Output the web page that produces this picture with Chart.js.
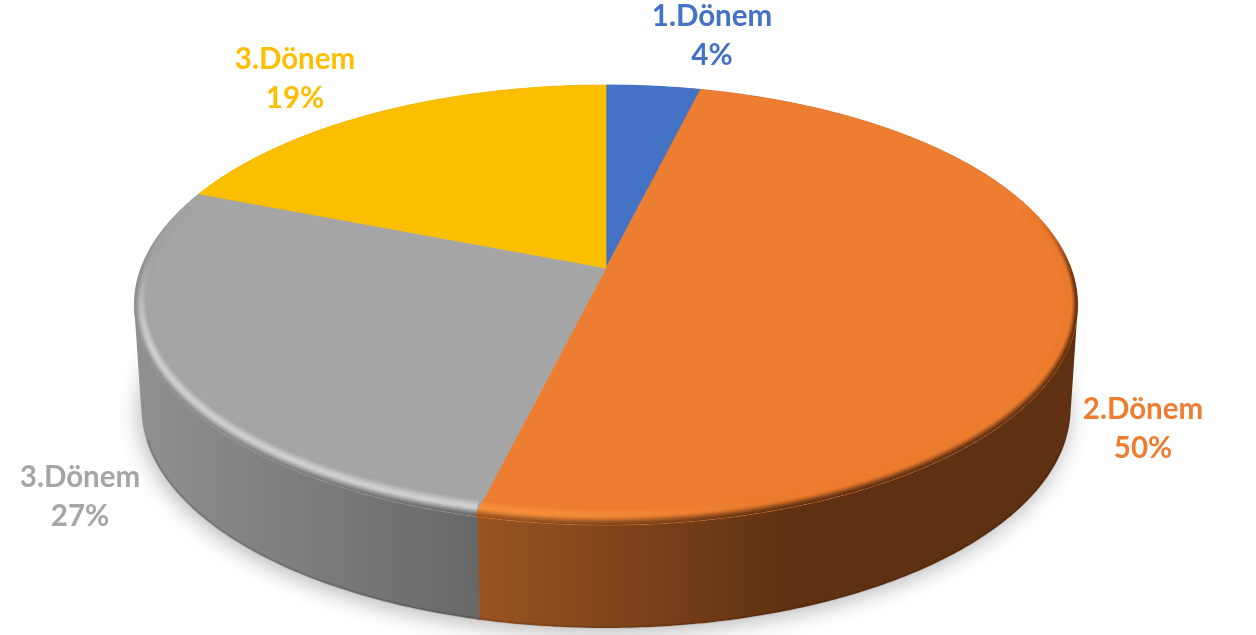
<!DOCTYPE html>
<html>
<head>
<meta charset="utf-8">
<title>Dönem</title>
<script src="https://cdn.jsdelivr.net/npm/chart.js@4/dist/chart.umd.min.js"></script>
<style>
  html, body { margin: 0; padding: 0; background: #fff; overflow: hidden; }
  canvas { display: block; }
</style>
</head>
<body>
<canvas id="pie" width="1256" height="635"></canvas>
<script>
// ---- Data ----
const CATEGORIES = ["1.Dönem", "2.Dönem", "3.Dönem", "3.Dönem"];
const VALUES = [3.8, 50, 27.2, 19];

// ---- Styles ----
const COLORS = ["#4472c4", "#ed7d31", "#a5a5a5", "#fcbf00"];
const LABEL_COLORS = ["#4472c4", "#ed7d31", "#a5a5a5", "#fcbf00"];
const HIGHLIGHTS = ["#4472c4", "#f8923f", "#d2d2d2", "#fcbf00"];
// wall shade at its left and right end, [x, colour]
const WALLS = [
  [[600, "#2a4678"], [710, "#2a4678"]],
  [[476, "#9a5421"], [800, "#5f3012"]],
  [[140, "#909090"], [476, "#686868"]],
  [[200, "#9a7400"], [606, "#9a7400"]],
];
const LABEL_SPOTS = [[712, 16], [1143, 409], [80, 477], [295, 59]];
const LABEL_GAP = 39;

// perspective of the tilted disc, apex of the slices at cx,cy
const VIEW = { cx: 606, cy: 268, a: 465, b: 213.8, k: -0.168 };
const DEPTH = 103, FLOOR_X = 0.985;

function project(u, v, low) {
  const w = 1 + VIEW.k * v;
  const sx = low ? FLOOR_X : 1;
  return [VIEW.cx + sx * VIEW.a * u / w, VIEW.cy + (low ? DEPTH : 0) + VIEW.b * v / w];
}

function hexRgb(h) {
  return [1, 3, 5].map(i => parseInt(h.substr(i, 2), 16));
}
function mix(a, b, t) {
  return a.map((c, i) => c + (b[i] - c) * t);
}
function css(c) {
  return `rgb(${c.map(Math.round).join(",")})`;
}
function clamp01(t) {
  return Math.max(0, Math.min(1, t));
}
function smooth(t) {
  t = clamp01(t);
  return t * t * (3 - 2 * t);
}
function wallAt(i, x) {
  const [[x0, c0], [x1, c1]] = WALLS[i];
  return mix(hexRgb(c0), hexRgb(c1), clamp01((x - x0) / (x1 - x0)));
}

// points along an arc of the rim
function rimAngles(arc, lead = 0) {
  const list = [], step = Math.PI / 360;
  for (let t = arc.startAngle - lead; t < arc.endAngle; t += step) list.push(t);
  list.push(arc.endAngle);
  return list;
}

function drawShadow(ctx) {
  ctx.save();
  ctx.beginPath();
  for (let t = 0; t < Math.PI * 2; t += 0.01) {
    const p = project(Math.cos(t), Math.sin(t), true);
    ctx.lineTo(p[0], p[1]);
  }
  ctx.closePath();
  ctx.shadowColor = "rgba(0,0,0,0.28)";
  ctx.shadowBlur = 22;
  ctx.shadowOffsetX = -2;
  ctx.shadowOffsetY = 5;
  ctx.fillStyle = "#fff";
  ctx.fill();
  ctx.restore();
}

// the two rims cross near the sides, so the wall is a union of strips,
// all wound the same way and filled as one path
function drawWall(ctx, arc, i) {
  const angles = rimAngles(arc, 0.006); // small lead hides the seam to the next wall
  const g = ctx.createLinearGradient(WALLS[i][0][0], 0, WALLS[i][1][0], 0);
  g.addColorStop(0, WALLS[i][0][1]);
  g.addColorStop(1, WALLS[i][1][1]);
  ctx.beginPath();
  for (let n = 0; n < angles.length - 1; n++) {
    const t0 = angles[n], t1 = angles[n + 1];
    const q = [
      project(Math.cos(t0), Math.sin(t0), false),
      project(Math.cos(t1), Math.sin(t1), false),
      project(Math.cos(t1), Math.sin(t1), true),
      project(Math.cos(t0), Math.sin(t0), true),
    ];
    let area = 0;
    q.forEach((p, k) => {
      const r = q[(k + 1) % 4];
      area += p[0] * r[1] - r[0] * p[1];
    });
    if (area < 0) q.reverse();
    ctx.moveTo(q[0][0], q[0][1]);
    ctx.lineTo(q[1][0], q[1][1]);
    ctx.lineTo(q[2][0], q[2][1]);
    ctx.lineTo(q[3][0], q[3][1]);
    ctx.closePath();
  }
  ctx.fillStyle = g;
  ctx.fill();
  // darker foot of the wall, only where the floor rim is the outline
  ctx.beginPath();
  angles.filter(t => Math.sin(t) > 0.3).forEach(t => {
    const p = project(Math.cos(t) * 0.998, Math.sin(t) * 0.998, true);
    ctx.lineTo(p[0], p[1]);
  });
  ctx.strokeStyle = "rgba(50,25,10,0.16)";
  ctx.lineWidth = 2.5;
  ctx.stroke();
}

function slicePath(ctx, arc) {
  ctx.beginPath();
  ctx.moveTo(VIEW.cx, VIEW.cy);
  rimAngles(arc).forEach(t => {
    const p = project(Math.cos(t), Math.sin(t), false);
    ctx.lineTo(p[0], p[1]);
  });
  ctx.closePath();
}

function drawFace(ctx, arc, i) {
  slicePath(ctx, arc);
  ctx.fillStyle = ctx.strokeStyle = COLORS[i];
  ctx.lineWidth = 0.7;
  ctx.fill();
  ctx.stroke();
}

// rounded edge of the disc: flat colour -> highlight -> wall colour
function drawBevel(ctx, arc, i) {
  const base = hexRgb(COLORS[i]), hi = hexRgb(HIGHLIGHTS[i]);
  const BANDS = 14, DU = 0.026, DV = 0.06;
  const angles = rimAngles(arc);
  ctx.save();
  slicePath(ctx, arc);
  ctx.clip();
  for (let n = 0; n < angles.length - 1; n++) {
    const t0 = angles[n], t1 = angles[n + 1];
    const tm = (t0 + t1) / 2;
    const weight = smooth((Math.sin(tm) + 0.3) / 0.4);
    if (weight <= 0) continue;
    const xm = project(Math.cos(tm), Math.sin(tm), false)[0];
    const hiAmt = i === 1 ? clamp01((760 - xm) / 240) : smooth((Math.sin(tm) + 0.1) / 0.5);
    const wall = wallAt(i, xm);
    for (let b = 0; b < BANDS; b++) {
      const s0 = b / BANDS, s1 = (b + 1) / BANDS, sm = (s0 + s1) / 2;
      let c;
      const peak = mix(base, hi, hiAmt);
      if (sm < 0.5) c = mix(base, peak, smooth(sm / 0.5));
      else c = mix(peak, wall, smooth((sm - 0.5) / 0.5));
      c = mix(base, c, weight);
      const r = (t, s) => {
        const d = 1 - s;
        return project(Math.cos(t) * (1 - DU * d), Math.sin(t) * (1 - DV * d), false);
      };
      const a = r(t0, s0), e = r(t1, s0), f = r(t1, s1), g = r(t0, s1);
      ctx.beginPath();
      ctx.moveTo(a[0], a[1]);
      ctx.lineTo(e[0], e[1]);
      ctx.lineTo(f[0], f[1]);
      ctx.lineTo(g[0], g[1]);
      ctx.closePath();
      ctx.fillStyle = ctx.strokeStyle = css(c);
      ctx.lineWidth = 0.6;
      ctx.fill();
      ctx.stroke();
    }
  }
  ctx.restore();
}

function drawLabels(ctx) {
  ctx.save();
  ctx.font = "bold 29.5px Lato, 'Open Sans', sans-serif";
  ctx.textAlign = "center";
  ctx.textBaseline = "middle";
  CATEGORIES.forEach((name, i) => {
    const [x, y] = LABEL_SPOTS[i];
    ctx.fillStyle = LABEL_COLORS[i];
    ctx.fillText(name, x, y);
    ctx.fillText(Math.round(VALUES[i]) + "%", x, y + LABEL_GAP);
  });
  ctx.restore();
}

// Chart.js gives the slice angles, this plugin paints them on the tilted disc
const tiltedPie = {
  id: "tiltedPie",
  beforeDatasetDraw(chart) {
    const ctx = chart.ctx;
    const arcs = chart.getDatasetMeta(0).data;
    drawShadow(ctx);
    arcs.forEach((arc, i) => drawWall(ctx, arc, i));
    arcs.forEach((arc, i) => drawFace(ctx, arc, i));
    arcs.forEach((arc, i) => drawBevel(ctx, arc, i));
    drawLabels(ctx);
    return false;
  }
};

new Chart(document.getElementById("pie"), {
  type: "pie",
  data: {
    labels: CATEGORIES,
    datasets: [{ data: VALUES, backgroundColor: COLORS, borderWidth: 0 }]
  },
  options: {
    responsive: false,
    animation: false,
    plugins: { legend: { display: false }, tooltip: { enabled: false } }
  },
  plugins: [tiltedPie]
});
</script>
</body>
</html>
